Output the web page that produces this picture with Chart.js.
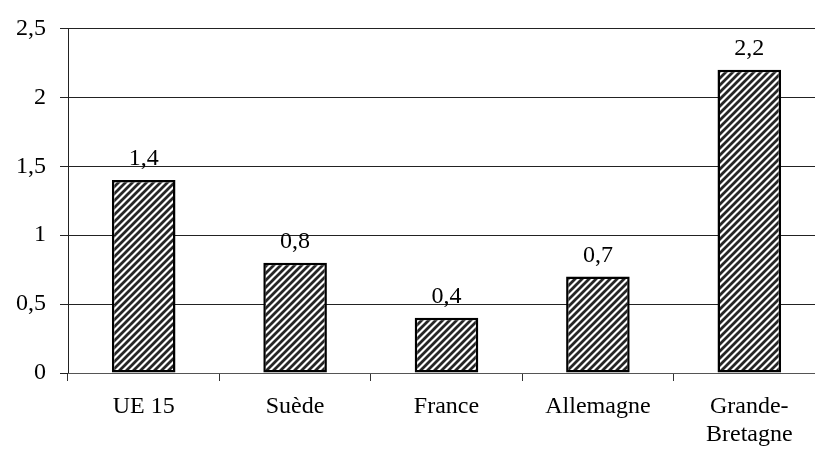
<!DOCTYPE html>
<html>
<head>
<meta charset="utf-8">
<script src="https://cdn.jsdelivr.net/npm/chart.js@4/dist/chart.umd.min.js"></script>
<style>
  html, body { margin: 0; padding: 0; background: #fff; overflow: hidden; }
  #wrap { width: 815px; height: 454px; overflow: hidden; position: relative; }
  #c { position: absolute; left: 0; top: 0; }
</style>
</head>
<body>
<div id="wrap"><canvas id="c" width="826" height="454"></canvas></div>
<script>
// Categories and values
const categories = ['UE 15', 'Suède', 'France', 'Allemagne', ['Grande-', 'Bretagne']];
const values = [1.4, 0.8, 0.4, 0.7, 2.2];
const yTicks = [0, 0.5, 1, 1.5, 2, 2.5];

const FONT = 'Liberation Serif, "Times New Roman", serif';
const SIZE = 24;
const fmt = v => String(v).replace('.', ',');

// Diagonal hatch fill for the bars
function hatch() {
  const s = 7;
  const t = document.createElement('canvas');
  t.width = s; t.height = s;
  const g = t.getContext('2d');
  g.fillStyle = '#fff';
  g.fillRect(0, 0, s, s);
  g.strokeStyle = '#262626';
  g.lineWidth = 2.8;
  g.lineCap = 'square';
  for (const o of [-s, 0, s]) {
    g.beginPath();
    g.moveTo(o, s);
    g.lineTo(o + s, 0);
    g.stroke();
  }
  return document.getElementById('c').getContext('2d').createPattern(t, 'repeat');
}

// Value labels above each bar
const valueLabels = {
  id: 'valueLabels',
  afterDatasetsDraw(chart) {
    const ctx = chart.ctx;
    const meta = chart.getDatasetMeta(0);
    ctx.save();
    ctx.font = SIZE + 'px ' + FONT;
    ctx.fillStyle = '#000';
    ctx.textAlign = 'center';
    ctx.textBaseline = 'alphabetic';
    meta.data.forEach((bar, i) => {
      ctx.fillText(fmt(values[i]), bar.x, bar.y - 15);
    });
    ctx.restore();
  }
};

new Chart(document.getElementById('c'), {
  type: 'bar',
  data: {
    labels: categories,
    datasets: [{
      data: values,
      backgroundColor: hatch(),
      borderColor: '#000',
      borderWidth: 2.5,
      borderSkipped: false,
      categoryPercentage: 1,
      barPercentage: 0.42
    }]
  },
  options: {
    responsive: false,
    animation: false,
    devicePixelRatio: 1,
    layout: { padding: { top: 26, right: 1, left: 0, bottom: 0 } },
    plugins: { legend: { display: false }, tooltip: { enabled: false } },
    scales: {
      y: {
        min: 0, max: 2.5,
        afterBuildTicks(scale) { scale.ticks = yTicks.map(v => ({ value: v })); },
        afterFit(scale) { scale.width = 68; },
        ticks: {
          font: { family: FONT, size: SIZE },
          color: '#000',
          padding: 14,
          callback: v => fmt(v)
        },
        grid: { color: '#222', lineWidth: 1, tickLength: 8, drawTicks: true },
        border: { color: '#222', width: 1 }
      },
      x: {
        afterFit(scale) { scale.height = 81; },
        ticks: {
          font: { family: FONT, size: SIZE, lineHeight: 1.15 },
          color: '#000',
          padding: 12,
          maxRotation: 0,
          autoSkip: false
        },
        grid: { offset: true, drawOnChartArea: false, color: '#333', tickLength: 8 },
        border: { color: '#555', width: 1 }
      }
    }
  },
  plugins: [valueLabels]
});
</script>
</body>
</html>
